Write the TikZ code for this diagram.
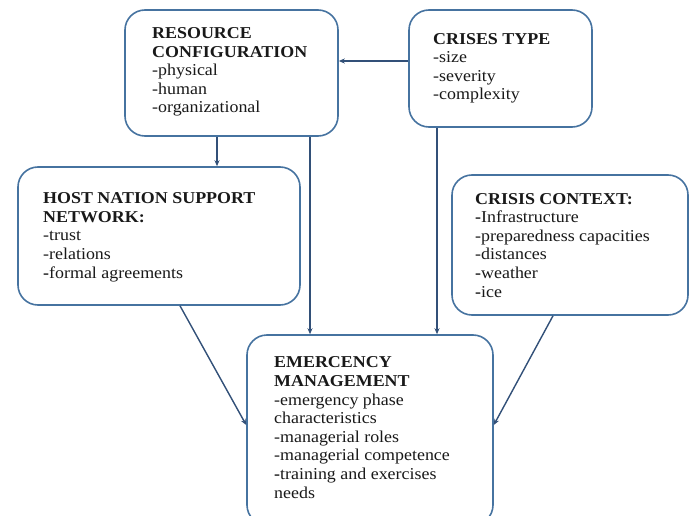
\documentclass[tikz,border=0pt]{standalone}
\usepackage{fontspec}
\setmainfont[FakeStretch=1.08]{Liberation Serif}
\usetikzlibrary{arrows.meta}
\definecolor{boxc}{RGB}{70,115,160}
\definecolor{arrc}{RGB}{50,80,120}
\definecolor{txtc}{RGB}{25,25,25}
\tikzset{
  box/.style={draw=boxc, line width=1.6pt, rounded corners=20pt, fill=white, inner sep=0pt},
  arr/.style={draw=arrc, line width=1.4pt, -{Stealth[length=6pt,width=5pt]}},
  txt/.style={anchor=base west, align=left, inner sep=0pt, text=txtc, font=\fontsize{16.6}{18.6}\selectfont},
}
\begin{document}
\begin{tikzpicture}[x=1pt,y=-1pt]
\useasboundingbox (0,0) rectangle (696,516);
\clip (0,0) rectangle (696,516);
\fill[white] (0,0) rectangle (696,516);
% boxes
\node[box, minimum width=213pt, minimum height=126pt] (rc) at (231.5,73) {};
\node[box, minimum width=183pt, minimum height=117pt] (ct) at (500.5,68.5) {};
\node[box, minimum width=282pt, minimum height=138pt] (hn) at (159,236) {};
\node[box, minimum width=236pt, minimum height=140pt] (cc) at (570,245) {};
\node[box, minimum width=246pt, minimum height=190pt] (em) at (370,430) {};
% texts (anchored at the baseline of the last line)
\node[txt] (rct) at (152,113) {\textbf{RESOURCE}\\\textbf{CONFIGURATION}\\-physical\\-human\\-organizational};
\node[txt] (ctt) at (433,100) {\textbf{CRISES TYPE}\\-size\\-severity\\-complexity};
\node[txt] (hnt) at (43,278) {\textbf{HOST NATION SUPPORT}\\\textbf{NETWORK:}\\-trust\\-relations\\\textbf{-}formal agreements};
\node[txt] (cct) at (475,297) {\textbf{CRISIS CONTEXT:}\\\textbf{-}Infrastructure\\-preparedness capacities\\-distances\\\textbf{-}weather\\\textbf{-}ice};
\node[txt] (emt) at (274,498) {\textbf{EMERCENCY}\\\textbf{MANAGEMENT}\\-emergency phase\\characteristics\\-managerial roles\\-managerial competence\\\textbf{-}training and exercises\\needs};
% connectors
\draw[arr] ([yshift=7.5pt]ct.west) -- ([yshift=7.5pt]ct.west -| rc.east);
\draw[arr] ([xshift=-14.5pt]rc.south) -- ([xshift=-14.5pt]rc.south |- hn.north);
\draw[arr] ([xshift=78.5pt]rc.south) -- ([xshift=78.5pt]rc.south |- em.north);
\draw[arr] ([xshift=-63.5pt]ct.south) -- ([xshift=-63.5pt]ct.south |- em.north);
\draw[arr] ([xshift=21pt]hn.south) -- ([yshift=5pt]em.west);
\draw[arr] ([xshift=-17pt]cc.south) -- ([yshift=5pt]em.east);
\end{tikzpicture}
\end{document}
